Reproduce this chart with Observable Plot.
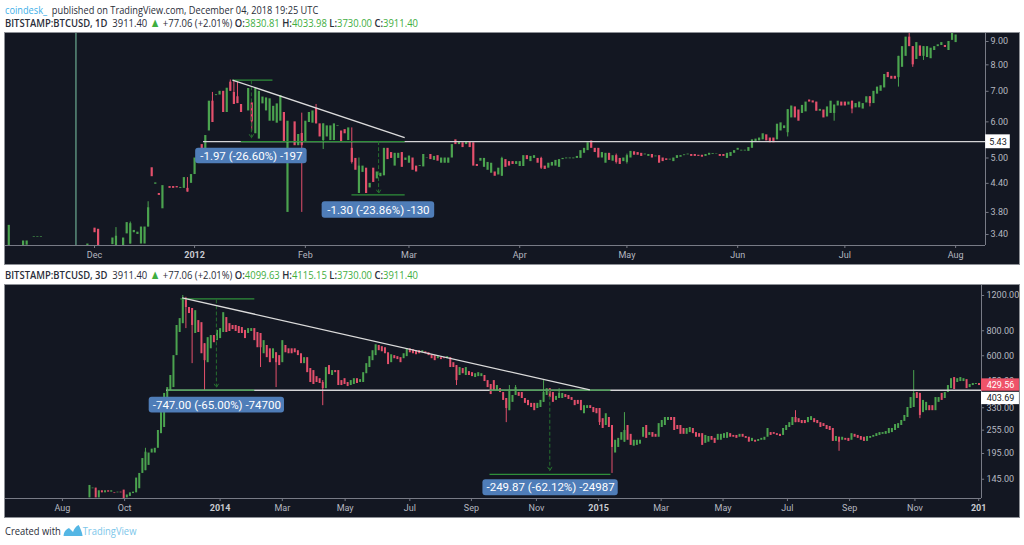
<!DOCTYPE html>
<html><head><meta charset="utf-8">
<script src="https://cdn.jsdelivr.net/npm/d3@7"></script>
<script src="https://cdn.jsdelivr.net/npm/@observablehq/plot@0.6"></script>
<style>
html,body{margin:0;padding:0;background:#fff;width:1024px;height:545px;overflow:hidden}
.t{position:absolute;left:5px;white-space:nowrap;font-family:"Open Sans",sans-serif;font-size:11.4px;color:#2a2e39;line-height:14px;transform-origin:0 0;transform:scaleX(.83)}
.t b{font-weight:600}.v{color:#3fae3f}.v.a{font-size:13px;line-height:10px}
.p{position:absolute;left:5px}
</style></head><body>
<div class="t" style="top:3px;transform:scaleX(.81)"><span style="color:#3fb0e8">coindesk_</span>&nbsp; published on TradingView.com, December 04, 2018 19:25 UTC</div>
<div class="t" style="top:16px"><b>BITSTAMP:BTCUSD, 1D</b>&nbsp; 3911.40 <span class="v a">▲</span> +77.06 (+2.01%) <b>O:</b><span class="v">3830.81</span> <b>H:</b><span class="v">4033.98</span> <b>L:</b><span class="v">3730.00</span> <b>C:</b><span class="v">3911.40</span></div>
<div class="p" id="a" style="top:33px"></div>
<div class="t" style="top:268px"><b>BITSTAMP:BTCUSD, 3D</b>&nbsp; 3911.40 <span class="v a">▲</span> +77.06 (+2.01%) <b>O:</b><span class="v">4099.63</span> <b>H:</b><span class="v">4115.15</span> <b>L:</b><span class="v">3730.00</span> <b>C:</b><span class="v">3911.40</span></div>
<div class="p" id="b" style="top:285px"></div>
<div class="t" style="top:524px;font-size:11.6px;transform:scaleX(.81)">Created with <svg width="24" height="11" viewBox="0 0 24 11" style="vertical-align:-1px"><path d="M0 11 C1 6 4 4 7 3 L12 7 C13 4 16 1 19 0 C21 3 23 7 24 11 Z" fill="#54b6e4"/></svg><span style="color:#7cc6ea">TradingView</span></div>
<script>
// ---------- 1D chart (candle number 1 onward) ----------
const firstBar1 = 1;
const open1 = [3.2,null,null,null,3.2,3.22,null,3.35,3.35,3.35,
null,null,null,null,null,null,null,null,null,null,
null,null,3.2,null,3.51,3.49,null,null,null,3.23,
3.2,null,3.2,3.41,3.24,3.43,3.4,3.24,3.24,3.53,
4.76,4.38,4.18,3.87,null,4.33,4.33,4.33,4.29,4.29,
4.29,4.4,4.6,5.0,5.35,5.04,5.73,6.66,6.85,6.87,
7.0,6.29,7.33,6.96,6.81,6.55,null,6.34,6.6,5.65,
5.5,6.57,6.34,6.02,6.02,5.96,6.02,6.29,3.8,null,
6.0,5.32,5.66,5.42,5.98,5.96,6.42,5.94,5.46,5.56,
5.46,5.46,5.86,5.73,5.77,5.46,5.25,4.99,4.18,4.65,
4.75,4.3,4.75,4.5,4.55,4.57,5.25,5.14,4.8,4.99,
5.14,4.94,4.87,5.0,4.8,4.79,4.78,5.0,5.09,4.94,
5.06,4.87,4.87,4.87,5.0,5.48,5.35,5.4,5.35,5.43,
5.4,4.84,4.92,4.77,4.7,4.63,4.66,4.59,4.56,4.96,
4.91,4.91,4.84,4.79,4.79,5.06,4.91,4.99,4.99,4.99,
4.8,4.75,4.8,4.8,4.77,4.96,4.98,4.98,4.98,4.99,
4.99,5.12,5.19,5.45,5.25,5.25,5.0,4.87,5.12,4.92,
5.06,4.99,4.91,4.89,5.0,5.16,5.14,5.12,5.08,5.04,
5.09,5.03,5.06,5.0,4.98,4.95,4.91,4.99,5.02,5.06,
5.08,5.09,5.09,5.07,5.07,5.04,5.07,5.09,5.09,5.09,
5.09,4.99,5.04,5.12,5.2,5.18,5.18,5.17,5.25,5.43,
5.45,5.48,5.62,5.53,5.53,5.48,5.73,5.8,5.68,6.12,
6.47,6.37,6.26,6.31,6.7,6.67,6.63,6.33,6.37,6.15,
6.26,6.26,6.5,6.63,6.63,6.53,6.66,6.44,6.44,6.4,
6.6,6.81,6.58,6.9,7.0,7.12,7.7,7.55,7.55,7.5,
7.9,8.35,9.2,8.77,8.22,8.8,8.35,8.3,8.25,8.6,
8.77,8.82,8.82,8.6,9.05,8.95];
const close1 = [3.56,null,null,null,3.29,3.29,null,3.36,3.36,3.36,
null,null,null,null,null,null,null,null,null,null,
null,null,3.24,null,3.43,3.2,null,null,null,3.34,
3.37,null,3.34,3.61,3.59,3.47,3.44,3.53,3.53,3.89,
4.55,4.41,4.14,4.35,null,4.29,4.29,4.3,4.31,4.53,
4.21,4.6,5.0,5.19,5.24,5.6,6.66,5.98,6.88,7.0,
6.29,7.11,7.0,6.55,6.58,6.29,null,7.1,6.0,7.1,
7.0,6.8,6.77,6.74,6.49,6.57,6.85,5.42,6.02,null,
5.32,5.63,5.32,6.02,6.29,6.34,5.94,5.56,5.94,5.88,
5.88,5.94,5.88,5.42,5.65,5.82,4.89,4.7,4.8,4.8,
4.18,4.4,4.42,4.66,4.63,5.25,4.96,4.99,5.12,5.12,
4.77,5.0,5.05,4.7,4.66,4.81,5.09,5.01,4.96,5.04,
4.92,5.0,5.0,5.0,5.35,5.35,5.43,5.27,5.43,5.27,
4.8,4.79,4.99,4.99,4.89,4.87,4.56,4.75,4.99,4.77,
4.8,4.84,4.91,4.91,5.06,4.96,5.04,5.06,4.87,4.75,
4.72,4.87,4.89,4.94,4.96,4.99,5.0,5.0,5.0,5.04,
5.19,5.25,5.4,5.25,5.14,5.0,5.14,5.12,4.94,5.06,
4.89,4.84,5.0,5.06,5.17,5.07,5.07,5.04,5.1,5.09,
5.0,5.05,4.87,4.91,4.94,4.97,5.0,5.06,5.06,5.08,
5.1,5.04,5.04,5.04,5.02,5.09,5.12,5.11,5.1,5.04,
5.04,5.12,5.14,5.19,5.25,5.2,5.2,5.27,5.48,5.5,
5.53,5.65,5.45,5.4,5.4,5.93,5.97,5.88,6.38,6.5,
6.12,6.02,6.52,6.63,6.63,6.6,6.33,6.39,6.12,6.47,
6.66,6.53,6.66,6.5,6.5,6.63,6.4,6.58,6.63,6.58,
6.81,6.58,7.0,7.15,7.2,7.62,7.5,7.44,7.44,8.35,
8.77,9.2,8.77,8.0,8.95,8.35,8.77,8.77,8.7,8.77,
8.85,8.95,8.73,9.0,9.4,9.3];
const wickBar1 = [31,35,40,51,58,63,64,65,69,83,87,89,97,99,139,150,171,174,219,232,237,242,250,253,254,257];
const wickHigh1 = [3.52,3.62,4.01,4.53,6.96,7.41,7.36,7.33,6.6,6.27,6.55,5.94,5.82,5.0,5.02,5.02,5.1,5.1,6.38,6.53,6.66,6.81,8.35,9.4,8.77,8.77];
const wickLow1 = [3.2,3.24,3.53,4.21,5.98,7.0,6.55,6.58,5.73,3.8,5.94,5.22,4.85,4.18,4.56,4.72,4.85,4.85,5.56,6.02,6.25,6.47,7.15,8.77,7.9,8.18];
const spikeBar1 = 19.8;
const priceTicks1 = [9,8,7,6,5,4.4,3.8,3.4];
const monthBars1 = [25,84,113,144,174,205,235,266];
const monthLabels1 = ["Dec","Feb","Mar","Apr","May","Jun","Jul","Aug"];
const yearBars1 = [53];
const yearLabels1 = ["2012"];
const level1 = 5.43;
const trendBars1 = [63.6,111.8], trendPrices1 = [7.41,5.54];
const greenSegs1 = [[63.6,74.8,7.41,7.41],[65.9,111.8,5.43,5.43],[96.9,111.8,4.15,4.15]];
const arrows1 = [[68.9,7.38,5.53],[104.5,5.43,4.18]];
const notes1 = [[53.3,84.5,5.25,4.86,"-1.97 (-26.60%) -197"],[88.7,120.2,4.01,3.69,"-1.30 (-23.86%) -130"]];
const tags1 = [[274.4,281.3,5.62,5.24,"#ffffff","#131722","5.43"]];
const domainX1 = [0.08,274.36], domainY1 = [3.216,9.37];

// ---------- 3D chart (candle number 27 onward) ----------
const firstBar2 = 27;
const open2 = [117,130,131,117,127,124,127,125,124,124,
125,128,117,119,123,124,130,155,160,170,
196,196,207,245,263,331,402,416,601,784,
868,1160,1045,1033,775,899,878,689,554,650,
757,714,731,784,931,868,850,850,840,830,
803,775,793,820,784,775,614,675,650,580,
621,601,554,675,650,650,650,636,614,548,
587,518,506,472,461,441,411,536,478,506,
506,451,461,441,426,431,461,441,441,488,
524,567,601,675,666,658,621,554,601,594,
587,580,594,650,643,636,636,621,628,621,
607,601,580,587,587,580,587,554,536,478,
518,478,500,494,467,472,472,478,451,431,
451,402,411,393,367,319,351,380,393,393,
367,359,347,347,327,331,351,380,411,393,
359,367,367,384,380,371,359,359,359,308,
327,338,331,327,327,291,269,295,269,196,
209,227,222,269,243,212,214,217,235,269,
240,248,243,235,263,269,285,295,295,269,
269,260,243,248,260,248,245,245,219,222,
237,232,227,227,232,232,245,240,240,235,
243,237,235,224,227,224,227,227,235,248,
248,245,243,240,254,263,269,295,291,285,
285,278,285,291,285,278,275,269,266,260,
224,235,227,232,232,227,243,240,237,235,
224,232,235,237,240,243,243,245,248,254,
260,269,282,295,327,331,393,389,312,319,
338,338,319,351,389,367,393,411,467,441,
446,446,456,416,426,431,436];
const close2 = [135,131,117,127,124,127,125,127,123,125,
124,116,121,124,125,147,155,184,198,196,
205,207,254,338,389,416,478,601,850,920,
1160,1045,975,850,1008,784,614,567,739,757,
697,803,820,985,784,793,811,793,775,775,
731,820,820,714,658,658,714,587,554,650,
554,536,714,621,614,614,621,601,548,587,
494,441,431,441,436,411,524,483,506,494,
426,426,431,421,451,461,436,456,494,548,
594,636,681,636,628,614,542,607,580,574,
554,614,650,621,614,607,614,636,614,601,
580,567,594,574,580,594,524,524,451,524,
488,524,478,472,488,494,488,446,416,384,
402,426,393,359,327,402,380,416,376,367,
347,338,331,319,347,359,393,411,371,351,
376,389,389,371,363,359,338,343,319,338,
338,327,312,308,278,260,308,263,209,227,
232,248,254,227,214,227,227,227,263,232,
248,235,235,275,285,295,295,285,254,257,
243,243,260,263,245,235,235,214,240,237,
227,219,243,243,245,248,235,235,232,243,
235,232,222,232,222,229,232,235,260,240,
243,240,237,260,269,278,295,278,278,275,
275,295,298,278,275,263,266,257,254,224,
237,222,235,227,224,245,235,232,227,224,
237,237,240,245,248,248,251,260,260,272,
275,285,302,331,371,389,367,302,359,351,
319,319,371,371,359,393,426,461,407,461,
467,461,411,431,436,436,426];
const wickBar2 = [45,50,57,58,60,64,82,87,102,145,161,162,164,173,178,191,195,199,254,268,292,294];
const wickHigh2 = [207,345,1200,1175,1033,689,775,621,451,536,367,426,426,451,411,327,269,312,319,235,506,389];
const wickLow2 = [160,245,868,820,548,402,524,416,338,426,278,319,380,351,367,269,155,222,278,200,331,291];
const priceTicks2 = [1200,800,600,450,330,255,195,145];
const monthBars2 = [18.3,38.3,89,109.2,130,149.8,170.7,210.8,230.7,251.4,271.4,292.4];
const monthLabels2 = ["Aug","Oct","Mar","May","Jul","Sep","Nov","Mar","May","Jul","Sep","Nov"];
const yearBars2 = [69,190.7,312.9];
const yearLabels2 = ["2014","2015","201"];
const level2 = 403.69;
const trendBars2 = [56.8,187.9], trendPrices2 = [1168,405];
const greenSegs2 = [[56.2,80,1155,1155],[51.8,80,403.69,403.69],[155.6,194.5,403.69,403.69],[155.6,194.5,153.5,153.5]];
const arrows2 = [[67.8,1140,416],[175,403.69,160]];
const notes2 = [[46.2,89.7,372,311,"-747.00 (-65.00%) -74700"],[153.5,197,144,120,"-249.87 (-62.12%) -24987"]];
const tags2 = [[313.8,326,460,399,"#ef5369","#ffffff","429.56"],[313.8,326,394,342,"#ffffff","#131722","403.69"]];
const domainX2 = [0,313.8], domainY2 = [116.2,1346];

const UP = "#4ba34f", DOWN = "#e4506c", ARM = "#2f8f3a";

function candles(first, open, close) {
  return open.map((o, i) => ({bar: first + i, open: o, close: close[i]})).filter(d => d.open != null);
}
function panel(o) {
  const bars = candles(o.first, o.open, o.close);
  const wicks = o.wickBar.map((b, i) => ({bar: b, high: o.wickHigh[i], low: o.wickLow[i],
    up: (bars.find(d => d.bar === b) || {open: 0, close: 1}).close >= (bars.find(d => d.bar === b) || {open: 0}).open}));
  const segs = o.segs.map(s => ({x1: s[0], x2: s[1], y1: s[2], y2: s[3]}));
  const arrows = o.arrows.map(a => ({x: a[0], y1: a[1], y2: a[2]}));
  const notes = o.notes.map(n => ({x1: n[0], x2: n[1], y1: n[2], y2: n[3], text: n[4]}));
  const tags = o.tags.map(t => ({x1: t[0], x2: t[1], y1: t[2], y2: t[3], fill: t[4], ink: t[5], text: t[6]}));
  const right = o.domainX[1];
  const axisOpts = {anchor: "bottom", label: null, tickSize: 3, tickPadding: 3, stroke: "#787b86"};
  return Plot.plot({
    width: 1014, height: o.height,
    marginLeft: 0, marginTop: 0, marginRight: o.mr, marginBottom: 19,
    style: {background: "#131722", display: "block", outline: "1px solid #8d9096", overflow: "visible", font: "9px Roboto, sans-serif"},
    x: {type: "linear", domain: o.domainX},
    y: {type: "log", domain: o.domainY, axis: null},
    marks: [
      Plot.ruleX(o.spike == null ? [] : [o.spike], {x: d => d, stroke: "#7ec9a8", strokeWidth: 1}),
      Plot.ruleX(wicks, {x: "bar", y1: "low", y2: "high", stroke: d => d.up ? UP : DOWN, strokeWidth: 1, clip: true}),
      Plot.ruleX(bars, {x: "bar", y1: "open", y2: "close", stroke: d => d.close >= d.open ? UP : DOWN, strokeWidth: o.bodyWidth, clip: true}),
      Plot.ruleY([o.level], {x1: o.levelFrom, x2: right, y: d => d, stroke: "#d4d4d6", strokeWidth: 1.4}),
      Plot.link(segs, {x1: "x1", x2: "x2", y1: "y1", y2: "y2", stroke: ARM, strokeWidth: 1.2}),
      Plot.arrow(arrows, {x: "x", y1: "y1", y2: "y2", bend: 0, stroke: "#26702f", strokeWidth: 1, strokeDasharray: "3,3", headLength: 6}),
      Plot.link([0], {x1: o.trendBars[0], x2: o.trendBars[1], y1: o.trendPrices[0], y2: o.trendPrices[1], stroke: "#dcdcdc", strokeWidth: 1.3}),
      Plot.ruleY([o.domainY[0]], {stroke: "#787b86"}),
      Plot.ruleX([right], {stroke: "#787b86"}),
      Plot.ruleY(o.priceTicks, {y: d => d, x1: right, x2: right + 1, stroke: "#787b86"}),
      Plot.text(o.priceTicks, {y: d => d, x: right, dx: 5, textAnchor: "start", text: d => d.toFixed(2), fill: "#b5b8c0", fontSize: 9}),
      Plot.axisX(o.monthBars, {...axisOpts, color: "#b5b8c0", tickFormat: d => o.monthLabels[o.monthBars.indexOf(d)]}),
      Plot.axisX(o.yearBars, {...axisOpts, color: "#c8cad0", fontWeight: 700, tickFormat: d => o.yearLabels[o.yearBars.indexOf(d)]}),
      Plot.rect(notes, {x1: "x1", x2: "x2", y1: "y1", y2: "y2", fill: "#4f7db8", rx: 3}),
      Plot.text(notes, {x: d => (d.x1 + d.x2) / 2, y: d => Math.sqrt(d.y1 * d.y2), text: "text", fill: "#fff", fontSize: 11.5, fontFamily: "Roboto, sans-serif", style: {letterSpacing: "0.4px"}}),
      Plot.rect(tags, {x1: "x1", x2: "x2", y1: "y1", y2: "y2", fill: "fill"}),
      Plot.text(tags, {x: d => (d.x1 + d.x2) / 2, y: d => Math.sqrt(d.y1 * d.y2), text: "text", fill: "ink", fontSize: 9, fontFamily: "Roboto, sans-serif"})
    ]
  });
}
document.getElementById("a").append(panel({
  first: firstBar1, open: open1, close: close1, wickBar: wickBar1, wickHigh: wickHigh1, wickLow: wickLow1,
  spike: spikeBar1, priceTicks: priceTicks1, monthBars: monthBars1, monthLabels: monthLabels1,
  yearBars: yearBars1, yearLabels: yearLabels1, level: level1, levelFrom: 55.5,
  trendBars: trendBars1, trendPrices: trendPrices1, segs: greenSegs1, arrows: arrows1, notes: notes1, tags: tags1,
  domainX: domainX1, domainY: domainY1, height: 231, mr: 34, bodyWidth: 2.2
}));
document.getElementById("b").append(panel({
  first: firstBar2, open: open2, close: close2, wickBar: wickBar2, wickHigh: wickHigh2, wickLow: wickLow2,
  spike: null, priceTicks: priceTicks2, monthBars: monthBars2, monthLabels: monthLabels2,
  yearBars: yearBars2, yearLabels: yearLabels2, level: level2, levelFrom: 51.8,
  trendBars: trendBars2, trendPrices: trendPrices2, segs: greenSegs2, arrows: arrows2, notes: notes2, tags: tags2,
  domainX: domainX2, domainY: domainY2, height: 232, mr: 38, bodyWidth: 2
}));
</script>
</body></html>
